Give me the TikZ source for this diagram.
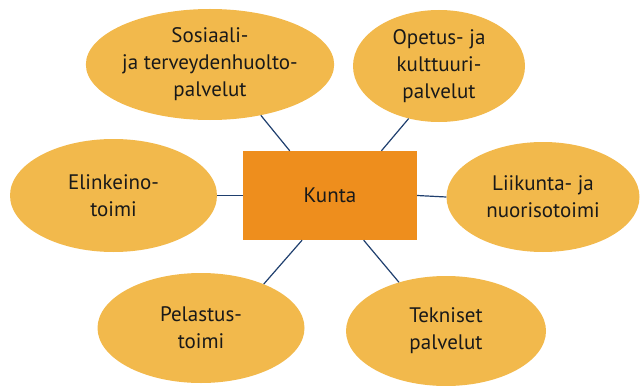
\documentclass[tikz,border=0pt]{standalone}
\usepackage{fontspec}
\setmainfont{PT Sans}
\usetikzlibrary{shapes.geometric}
\definecolor{pale}{HTML}{F2B94C}
\definecolor{deep}{HTML}{EE8E1D}
\definecolor{navy}{HTML}{1F3F6E}

\begin{document}
\begin{tikzpicture}
  [x=1pt,y=-1pt,every node/.style={ellipse,fill=pale,align=center,inner sep=0pt,
   text=black!90,font=\fontsize{21}{27}\selectfont}]
  \useasboundingbox (0,0) rectangle (644,385);
  \node[rectangle,fill=deep,minimum width=174pt,minimum height=89pt] (kunta) at (330,195.5) {Kunta};
  \node[minimum width=206pt,minimum height=111pt] (sote) at (210,64.5) {Sosiaali-\\ja terveydenhuolto-\\palvelut};
  \node[minimum width=172pt,minimum height=112pt] (opetus) at (439,66) {Opetus- ja\\kulttuuri-\\palvelut};
  \node[minimum width=207pt,minimum height=113pt] (elinkeino) at (113.5,195.5) {Elinkeino-\\toimi};
  \node[minimum width=193pt,minimum height=110pt] (liikunta) at (543,197) {Liikunta- ja\\nuorisotoimi};
  \node[minimum width=207pt,minimum height=110pt] (pelastus) at (201,328) {Pelastus-\\toimi};
  \node[minimum width=200pt,minimum height=110pt] (tekniset) at (446,331) {Tekniset\\palvelut};

  \foreach \from/\to in {sote.315/kunta.132,opetus.240/kunta.41,elinkeino.0/kunta.180,
    liikunta.180/kunta.0,tekniset.134/kunta.307,pelastus.35/kunta.238}
    \draw[navy,line width=1.2pt] (\from) -- (\to);

\end{tikzpicture}
\end{document}
